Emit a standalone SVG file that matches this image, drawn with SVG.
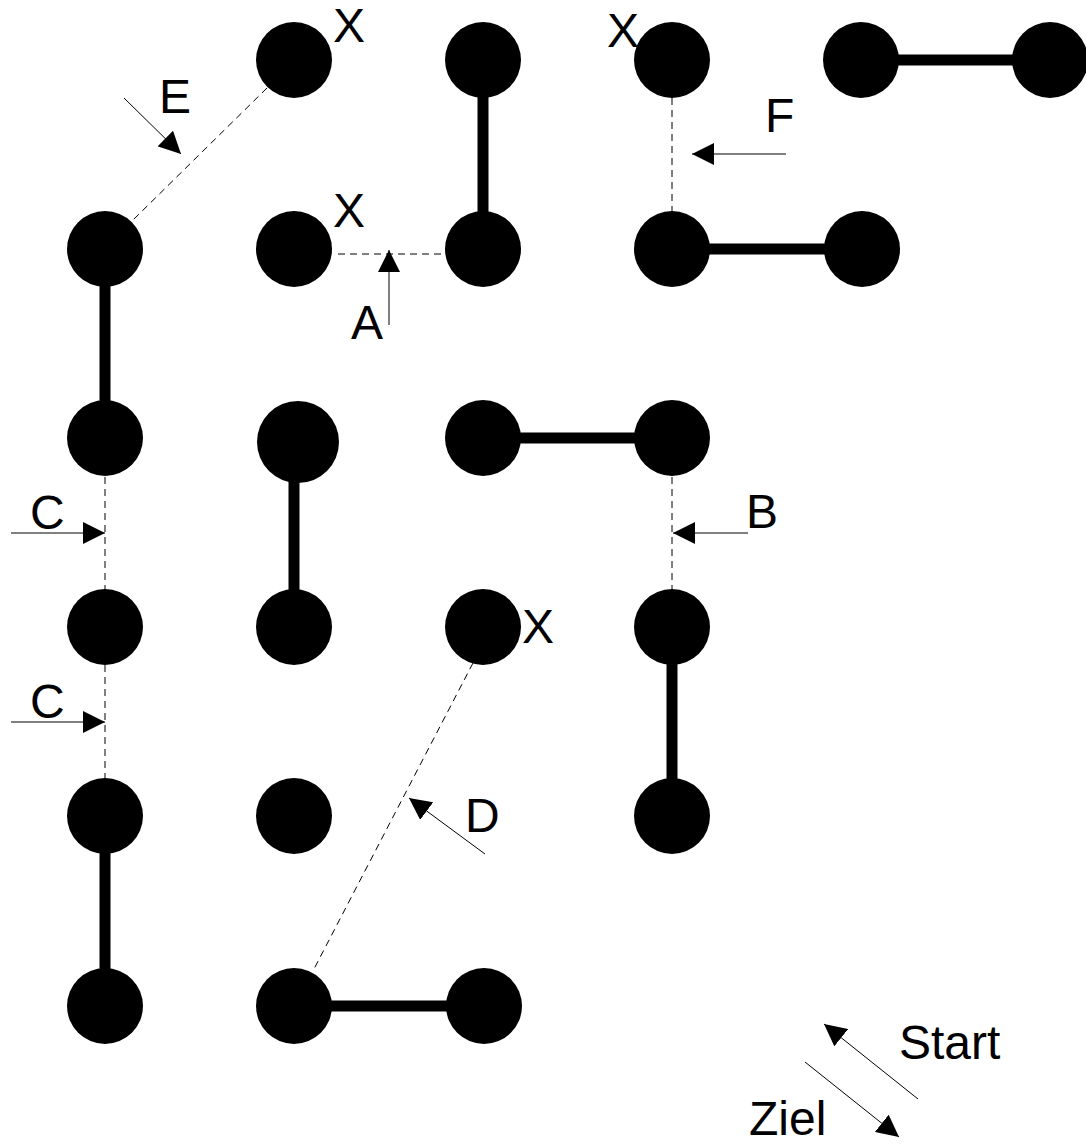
<svg xmlns="http://www.w3.org/2000/svg" width="1086" height="1144" viewBox="0 0 1086 1144">
<style>
.n{fill:#000}
.bar{stroke:#000;stroke-width:11;fill:none}
.dash{stroke:#000;stroke-width:1;stroke-dasharray:7 5;fill:none}
.arr{stroke:#000;stroke-width:1;fill:none;marker-end:url(#ah)}
text{font-family:"Liberation Sans",Arial,sans-serif;font-size:48px;fill:#000}
</style>
<defs>
<marker id="ah" markerUnits="userSpaceOnUse" markerWidth="22" markerHeight="22" refX="22" refY="11" orient="auto">
<path d="M0,0 L22,11 L0,22 z" fill="#000"/>
</marker>
</defs>
<rect width="1086" height="1144" fill="#fff"/>
<g id="connectors">
<line class="bar" x1="483" y1="60" x2="483" y2="249"/>
<line class="bar" x1="861" y1="60" x2="1050" y2="60"/>
<line class="bar" x1="672" y1="249" x2="862" y2="249"/>
<line class="bar" x1="105" y1="249" x2="105" y2="438"/>
<line class="bar" x1="294" y1="442" x2="294" y2="627"/>
<line class="bar" x1="483" y1="438" x2="672" y2="438"/>
<line class="bar" x1="672" y1="627" x2="672" y2="816"/>
<line class="bar" x1="105" y1="816" x2="105" y2="1006"/>
<line class="bar" x1="294" y1="1006" x2="484" y2="1006"/>
<line class="dash" x1="267" y1="88" x2="133" y2="220"/>
<line class="dash" x1="338" y1="254" x2="445" y2="254"/>
<line class="dash" x1="672" y1="98" x2="672" y2="211"/>
<line class="dash" x1="105" y1="477" x2="105" y2="590"/>
<line class="dash" x1="105" y1="665" x2="105" y2="778"/>
<line class="dash" x1="672" y1="477" x2="672" y2="590"/>
<line class="dash" x1="473" y1="663" x2="314" y2="969"/>
<line class="arr" x1="124" y1="98" x2="181" y2="154"/>
<line class="arr" x1="389" y1="325" x2="389" y2="250"/>
<line class="arr" x1="786" y1="154" x2="692" y2="154"/>
<line class="arr" x1="11" y1="533" x2="105" y2="533"/>
<line class="arr" x1="11" y1="722" x2="105" y2="722"/>
<line class="arr" x1="748" y1="533" x2="673" y2="533"/>
<line class="arr" x1="485" y1="854" x2="409" y2="798"/>
<line class="arr" x1="918" y1="1099" x2="824" y2="1024"/>
<line class="arr" x1="805" y1="1062" x2="899" y2="1137"/>
</g>
<g id="n1"><circle class="n" cx="294" cy="60" r="38"/></g>
<g id="n2"><circle class="n" cx="483" cy="60" r="38"/></g>
<g id="n3"><circle class="n" cx="672" cy="60" r="38"/></g>
<g id="n4"><circle class="n" cx="861" cy="60" r="38"/></g>
<g id="n5"><circle class="n" cx="1050" cy="60" r="38"/></g>
<g id="n6"><circle class="n" cx="105" cy="249" r="38"/></g>
<g id="n7"><circle class="n" cx="294" cy="249" r="38"/></g>
<g id="n8"><circle class="n" cx="483" cy="249" r="38"/></g>
<g id="n9"><circle class="n" cx="672" cy="249" r="38"/></g>
<g id="n10"><circle class="n" cx="862" cy="249" r="38"/></g>
<g id="n11"><circle class="n" cx="105" cy="438" r="38"/></g>
<g id="n12"><circle class="n" cx="298" cy="442" r="41"/></g>
<g id="n13"><circle class="n" cx="483" cy="438" r="38"/></g>
<g id="n14"><circle class="n" cx="672" cy="438" r="38"/></g>
<g id="n15"><circle class="n" cx="105" cy="627" r="38"/></g>
<g id="n16"><circle class="n" cx="294" cy="627" r="38"/></g>
<g id="n17"><circle class="n" cx="483" cy="627" r="38"/></g>
<g id="n18"><circle class="n" cx="672" cy="627" r="38"/></g>
<g id="n19"><circle class="n" cx="105" cy="816" r="38"/></g>
<g id="n20"><circle class="n" cx="294" cy="816" r="38"/></g>
<g id="n21"><circle class="n" cx="672" cy="816" r="38"/></g>
<g id="n22"><circle class="n" cx="105" cy="1006" r="38"/></g>
<g id="n23"><circle class="n" cx="294" cy="1006" r="38"/></g>
<g id="n24"><circle class="n" cx="484" cy="1006" r="38"/></g>
<g id="labels">
<text x="333" y="42">X</text>
<text x="333" y="227">X</text>
<text x="607" y="47">X</text>
<text x="522" y="643">X</text>
<text x="159" y="113">E</text>
<text x="351" y="339">A</text>
<text x="765" y="132">F</text>
<text x="30" y="529">C</text>
<text x="30" y="718">C</text>
<text x="746" y="528">B</text>
<text x="465" y="832">D</text>
<text x="899" y="1059">Start</text>
<text x="749" y="1135">Ziel</text>
</g>
</svg>
